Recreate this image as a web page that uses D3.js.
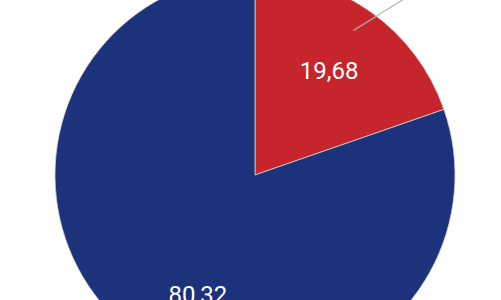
<!DOCTYPE html>
<html>
<head>
<meta charset="utf-8">
<script src="https://cdn.jsdelivr.net/npm/d3@7"></script>
<style>
  html, body { margin: 0; padding: 0; background: #fff; overflow: hidden; }
  svg { display: block; }
</style>
</head>
<body>
<svg id="chart" width="501" height="300"></svg>
<script>
const categories = ["A", "B"];
const values = [19.68, 80.32];
const labels = ["19,68", "80,32"];
const colors = ["#c6252c", "#1c327b"];

const width = 501, height = 300;
const cx = 255, cy = 175, radius = 200;

const svg = d3.select("#chart");
const g = svg.append("g").attr("transform", `translate(${cx},${cy})`);

const data = categories.map((c, i) => ({ cat: c, value: values[i], label: labels[i], color: colors[i] }));

const pie = d3.pie().value(d => d.value).sort(null);
const arcs = pie(data);
const arc = d3.arc().innerRadius(0).outerRadius(radius);

g.selectAll("path.slice")
  .data(arcs)
  .join("path")
  .attr("class", "slice")
  .attr("d", arc)
  .attr("fill", d => d.data.color)
  .attr("stroke", "#d0d0d0")
  .attr("stroke-width", 0.8);

// labels
const labelArc = d3.arc().innerRadius(radius * 0.64).outerRadius(radius * 0.64);
g.selectAll("text.lbl")
  .data(arcs)
  .join("text")
  .attr("class", "lbl")
  .attr("transform", d => {
    let [x, y] = labelArc.centroid(d);
    if (d.index === 1) { x += 17; y += 15; }
    return `translate(${x},${y})`;
  })
  .attr("text-anchor", "middle")
  .attr("dy", "0.35em")
  .attr("fill", "#fff")
  .attr("font-family", "Roboto, sans-serif")
  .attr("font-size", 24)
  .text(d => d.data.label);

// leader line from small slice toward an off-canvas annotation
const small = arcs[0];
const mid = (small.startAngle + small.endAngle) / 2 - 0.02;
const r0 = radius * 0.875;
const x0 = r0 * Math.sin(mid), y0 = -r0 * Math.cos(mid);
const dir = 58 * Math.PI / 180;
const len = 120;
g.append("line")
  .attr("x1", x0).attr("y1", y0)
  .attr("x2", x0 + len * Math.sin(dir)).attr("y2", y0 - len * Math.cos(dir))
  .attr("stroke", "#b4b4b4")
  .attr("stroke-width", 1.2);
</script>
</body>
</html>
